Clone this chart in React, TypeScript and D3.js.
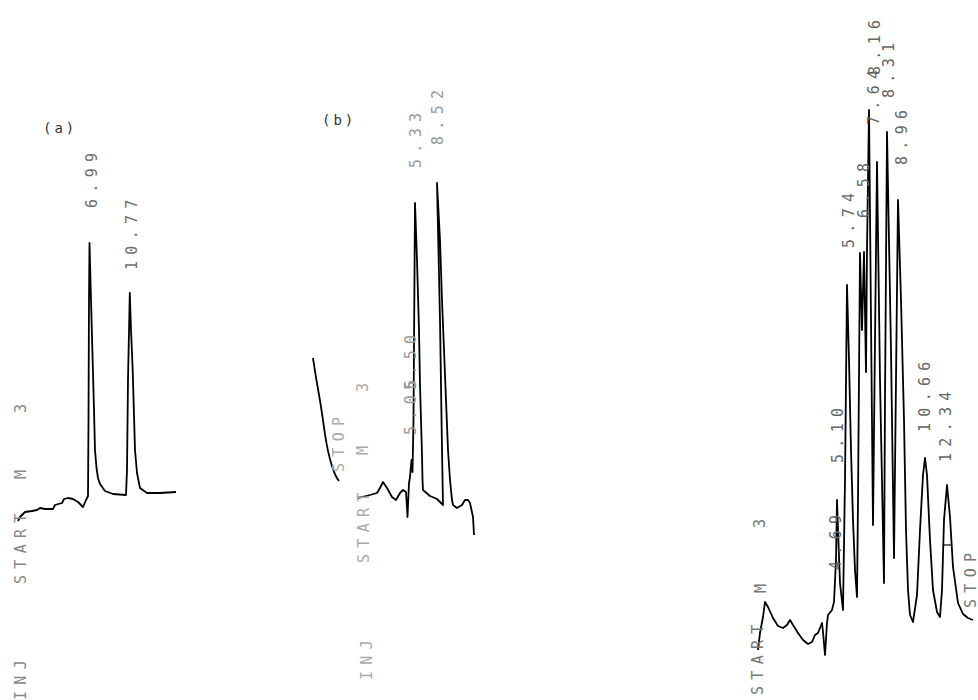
import React from 'react';
import * as d3 from 'd3';

// [retention time (min), detector signal (mV)]
const traceA: [number, number][] = [
  [0.0, 17.9], [0.2, 18.3], [0.7, 18.8], [1.4, 18.9], [1.9, 19.0], [2.2, 19.2], [2.7, 19.1],
  [3.5, 19.1], [3.7, 19.5], [4.4, 19.7], [4.6, 20.1], [5.0, 20.2], [5.5, 20.1], [6.0, 19.8],
  [6.5, 19.3], [6.8, 20.0], [7.0, 20.4], [7.05, 28.0], [7.1, 40.0], [7.15, 45.7], [7.3, 40.0],
  [7.45, 34.5], [7.6, 29.0], [7.7, 25.0], [7.85, 23.2], [8.0, 22.2], [8.2, 21.6], [8.7, 20.9],
  [9.5, 20.6], [10.8, 20.5], [10.9, 23.0], [11.0, 32.0], [11.18, 40.7], [11.3, 37.0],
  [11.47, 33.0], [11.7, 25.0], [11.9, 22.7], [12.2, 21.2], [12.9, 20.7], [14.2, 20.7], [15.8, 20.8],
];

const traceB: [number, number][] = [
  [0.0, 20.2], [0.5, 20.3], [1.3, 20.5], [2.0, 20.7], [2.3, 21.2], [2.6, 21.8], [3.0, 21.2],
  [3.5, 20.3], [3.9, 20.0], [4.3, 20.7], [4.6, 21.0], [4.9, 20.8], [5.0, 19.2], [5.05, 18.3],
  [5.2, 21.7], [5.3, 22.3], [5.45, 24.0], [5.55, 22.8], [5.65, 28.0], [5.8, 49.7], [6.0, 44.0],
  [6.2, 37.0], [6.3, 31.5], [6.4, 28.0], [6.5, 24.5], [6.55, 22.0], [6.6, 21.0], [7.3, 20.4],
  [8.0, 20.1], [8.6, 19.5], [8.5, 25.0], [8.3, 38.0], [8.0, 51.7], [8.3, 46.0], [8.5, 40.0],
  [8.9, 30.0], [9.1, 25.0], [9.3, 22.0], [9.5, 20.0], [9.6, 19.5], [10.0, 19.2], [10.5, 19.5],
  [10.8, 20.0], [11.1, 20.0], [11.3, 19.7], [11.6, 18.3], [11.7, 16.5],
];

// pen stroke left of trace (b) after the previous run stopped
const stopPenB: [number, number][] = [
  [-4.4, 34.2], [-4.1, 32.2], [-3.7, 30.0], [-3.4, 28.0], [-3.2, 26.5], [-2.9, 24.8],
  [-2.5, 23.3], [-2.1, 22.3], [-1.8, 21.9],
];

const traceC: [number, number][] = [
  [0.0, 5.0], [0.2, 6.7], [0.5, 8.3], [0.7, 9.8], [1.0, 9.3], [1.5, 8.2], [2.0, 7.4], [2.5, 7.2],
  [2.9, 7.5], [3.2, 8.0], [3.5, 7.5], [4.0, 6.7], [4.5, 6.0], [5.0, 5.6], [5.4, 5.8], [5.7, 6.5],
  [6.0, 6.7], [6.4, 7.7], [6.5, 6.8], [6.7, 4.5], [6.9, 7.7], [7.0, 8.5], [7.4, 9.0], [7.6, 9.8],
  [7.8, 14.0], [7.9, 20.0], [8.0, 17.0], [8.2, 11.7], [8.5, 9.0], [8.7, 22.0], [8.9, 41.5],
  [9.1, 34.0], [9.3, 25.0], [9.5, 18.0], [9.7, 13.0], [9.9, 10.3], [10.0, 20.0], [10.2, 44.7],
  [10.4, 37.0], [10.6, 44.8], [10.8, 32.8], [10.9, 45.0], [11.1, 59.0], [11.3, 38.0],
  [11.5, 17.5], [11.7, 36.0], [11.9, 53.8], [12.2, 32.0], [12.6, 11.7], [12.7, 30.0],
  [12.9, 56.8], [13.3, 35.0], [13.6, 14.2], [13.8, 32.0], [14.0, 50.0], [14.3, 40.0],
  [14.6, 28.0], [14.8, 17.0], [15.0, 11.0], [15.2, 8.5], [15.5, 7.8], [15.9, 10.5], [16.2, 17.0],
  [16.5, 22.5], [16.7, 24.2], [16.9, 22.5], [17.2, 16.0], [17.5, 11.0], [17.9, 8.8], [18.2, 8.3],
  [18.4, 11.0], [18.6, 18.0], [18.9, 21.5], [19.2, 18.3], [19.5, 13.3], [20.0, 9.7], [20.5, 8.6],
  [21.0, 8.2], [21.5, 8.0],
];

// printed retention-time labels: text, time where printed, signal level where the text starts
const peakLabelsA = ['6.99', '10.77'];
const peakTimesA = [7.3, 11.3];
const peakLevelsA = [49.2, 43.0];

const peakLabelsB = ['5.33', '8.52', '5.06', '5.50'];
const peakTimesB = [5.8, 8.0, 5.3, 5.3];
const peakLevelsB = [53.2, 55.5, 26.5, 31.0];

const peakLabelsC = ['4.69', '5.10', '5.74', '6.58', '7.64', '8.16', '8.31', '8.96', '10.66', '12.34'];
const peakTimesC = [7.7, 7.9, 9.0, 10.5, 11.5, 11.6, 13.0, 14.3, 16.6, 18.7];
const peakLevelsC = [13.0, 23.7, 45.2, 48.2, 57.5, 62.5, 60.2, 53.5, 26.8, 23.8];

// integrator event marks
const eventsA = ['START', 'M', '3', 'INJ'];
const eventTimesA = [0.2, 0.2, 0.2, 0.2];
const eventLevelsA = [11.6, 22.1, 28.7, 0.0];

const eventsB = ['STOP', 'M', '3', 'START', 'INJ'];
const eventTimesB = [-1.9, 0.5, 0.5, 0.6, 0.9];
const eventLevelsB = [22.8, 24.5, 30.8, 13.7, 2.0];

const eventsC = ['START', 'M', '3', 'STOP'];
const eventTimesC = [-0.1, 0.2, 0.1, 21.2];
const eventLevelsC = [0.5, 10.7, 17.2, 9.2];

const W = 978;
const H = 700;

const y = d3.scaleLinear().domain([0, 70]).range([H, 0]);
const xA = d3.scaleLinear().domain([0, 16]).range([18, 178]);
const xB = d3.scaleLinear().domain([0, 12]).range([357, 477]);
const xC = d3.scaleLinear().domain([0, 22]).range([758, 978]);

const FONT = "'DejaVu Sans Mono', monospace";

function VText({ x, yy, text, fill }: { x: number; yy: number; text: string; fill: string }) {
  return (
    <text
      transform={`translate(${x + 5.5},${yy}) rotate(-90)`}
      fontFamily={FONT}
      fontSize={15}
      letterSpacing={6.3}
      fill={fill}
    >
      {text}
    </text>
  );
}

function Trace({ x, data, curve }: { x: d3.ScaleLinear<number, number>; data: [number, number][]; curve?: d3.CurveFactory }) {
  const line = d3.line<[number, number]>()
    .x(d => x(d[0]))
    .y(d => y(d[1]))
    .curve(curve || d3.curveLinear);
  return <path d={line(data) || ''} fill="none" stroke="#000" strokeWidth={1.8} strokeLinejoin="round" />;
}

function Labels({ x, texts, times, levels, fill }: {
  x: d3.ScaleLinear<number, number>; texts: string[]; times: number[]; levels: number[]; fill: string;
}) {
  return (
    <g>
      {texts.map((t, i) => (
        <VText key={i} x={x(times[i])} yy={y(levels[i])} text={t} fill={fill} />
      ))}
    </g>
  );
}

export default function App() {
  return (
    <svg width={W} height={H} style={{ position: 'absolute', left: 0, top: 0, background: '#fff' }}>
      <rect width={W} height={H} fill="#fff" />

      {/* (a) */}
      <text x={43} y={133} fontFamily={FONT} fontSize={14} letterSpacing={3} fill="#333">(a)</text>
      <Trace x={xA} data={traceA} />
      <Labels x={xA} texts={peakLabelsA} times={peakTimesA} levels={peakLevelsA} fill="#6f6f6f" />
      <Labels x={xA} texts={eventsA} times={eventTimesA} levels={eventLevelsA} fill="#888" />

      {/* (b) */}
      <text x={322} y={125} fontFamily={FONT} fontSize={14} letterSpacing={3} fill="#333">(b)</text>
      <Trace x={xB} data={stopPenB} curve={d3.curveBasis} />
      <Trace x={xB} data={traceB} />
      <Labels x={xB} texts={peakLabelsB} times={peakTimesB} levels={peakLevelsB} fill="#999" />
      <Labels x={xB} texts={eventsB} times={eventTimesB} levels={eventLevelsB} fill="#aaa" />

      {/* (c) */}
      <Trace x={xC} data={traceC} />
      <line x1={xC(18.5)} x2={xC(19.4)} y1={y(15.5)} y2={y(15.5)} stroke="#000" strokeWidth={1.2} />
      <Labels x={xC} texts={peakLabelsC} times={peakTimesC} levels={peakLevelsC} fill="#666" />
      <Labels x={xC} texts={eventsC} times={eventTimesC} levels={eventLevelsC} fill="#777" />
    </svg>
  );
}
